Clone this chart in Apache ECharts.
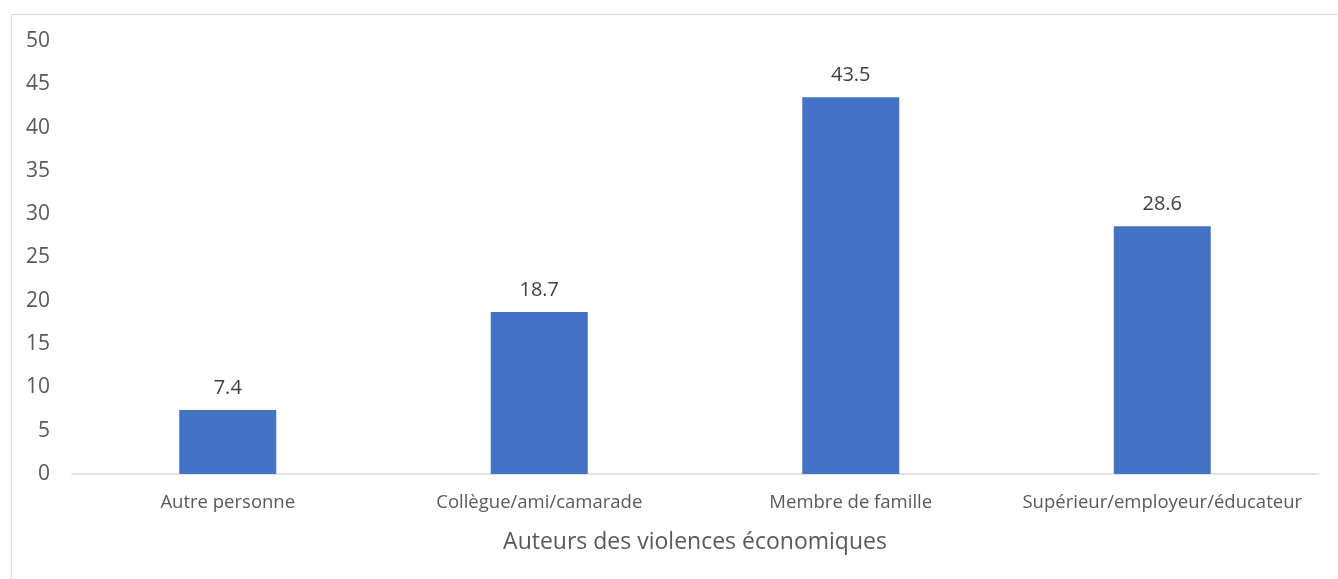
<!DOCTYPE html>
<html><head><meta charset="utf-8">
<script src="https://cdn.jsdelivr.net/npm/echarts@6/dist/echarts.min.js"></script>
<style>html,body{margin:0;padding:0;background:#fff}#c{width:1338px;height:579px}</style>
</head><body><div id="c"></div>
<script>
const categories = ["Autre personne", "Collègue/ami/camarade", "Membre de famille", "Supérieur/employeur/éducateur"];
const values = [7.4, 18.7, 43.5, 28.6];
const yTicks = [0, 5, 10, 15, 20, 25, 30, 35, 40, 45, 50];
const axisTitle = "Auteurs des violences économiques";
const FONT = "'Open Sans', 'Noto Sans', sans-serif";
const chart = echarts.init(document.getElementById('c'));
chart.setOption({
  animation: false,
  graphic: [{type: 'rect', left: 9, top: 12, shape: {width: 1400, height: 600}, style: {fill: 'none', stroke: '#d9d9d9', lineWidth: 1}, silent: true}],
  grid: {left: 72, right: 20, top: 41, bottom: 105, containLabel: false},
  xAxis: {
    type: 'category', data: categories,
    name: axisTitle, nameLocation: 'middle', nameGap: 57,
    nameTextStyle: {fontFamily: FONT, fontSize: 23, color: '#595959'},
    axisLine: {lineStyle: {color: '#d9d9d9', width: 1.5}},
    axisTick: {show: false},
    axisLabel: {fontFamily: FONT, fontSize: 18.5, color: '#595959', margin: 19, interval: 0}
  },
  yAxis: {
    type: 'value', min: yTicks[0], max: yTicks[yTicks.length - 1], interval: 5,
    axisLine: {show: false}, axisTick: {show: false}, splitLine: {show: false},
    axisLabel: {fontFamily: FONT, fontSize: 21, color: '#595959', margin: 22}
  },
  series: [{
    type: 'bar', data: values, barWidth: 97,
    itemStyle: {color: '#4472c4'},
    label: {show: true, position: 'top', distance: 12, fontFamily: FONT, fontSize: 20, color: '#404040'}
  }]
});
</script></body></html>
